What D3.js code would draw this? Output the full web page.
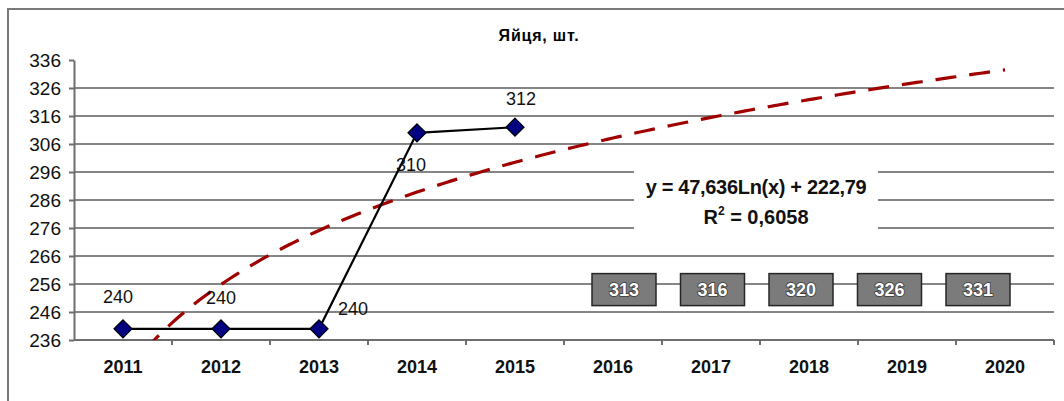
<!DOCTYPE html>
<html>
<head>
<meta charset="utf-8">
<script src="https://cdn.jsdelivr.net/npm/d3@7"></script>
<style>
  html, body { margin: 0; padding: 0; background: #fff; }
  svg { display: block; font-family: "Liberation Sans", Arial, sans-serif; }
</style>
</head>
<body>
<svg id="chart"></svg>
<script>
// Chart data
const years = ['2011', '2012', '2013', '2014', '2015', '2016', '2017', '2018', '2019', '2020'];
const eggs = [240, 240, 240, 310, 312];
const forecastYears = ['2016', '2017', '2018', '2019', '2020'];
const forecastValues = [313, 316, 320, 326, 331];
const yTicks = [236, 246, 256, 266, 276, 286, 296, 306, 316, 326, 336];
const title = 'Яйця, шт.';
const equationText = 'y = 47,636Ln(x) + 222,79';
const rSquaredText = '0,6058';

// hand-placed data label offsets (dx, dy) from each marker, as in the original
const labelOffsets = [[-5, -32], [0, -31], [34, -20], [-6, 32], [6, -29]];

const W = 1064, H = 401;
const plot = { left: 74, right: 1054, top: 60, bottom: 340 };

const svg = d3.select('#chart').attr('width', W).attr('height', H);

// outer chart frame (right and bottom edges run off the picture)
svg.append('rect')
  .attr('x', 8).attr('y', 9)
  .attr('width', 1070).attr('height', 420)
  .attr('fill', '#fff')
  .attr('stroke', '#7a7a7a')
  .attr('stroke-width', 2);

const x = d3.scaleBand().domain(years).range([plot.left, plot.right]).padding(0);
const cx = (d) => x(d) + x.bandwidth() / 2;
const y = d3.scaleLinear().domain([236, 336]).range([plot.bottom, plot.top]);

// title
svg.append('text')
  .attr('x', (8 + 1070) / 2)
  .attr('y', 35)
  .attr('dy', '0.35em')
  .attr('text-anchor', 'middle')
  .attr('font-size', 16)
  .attr('font-weight', 'bold')
  .attr('letter-spacing', 0.8)
  .text(title);

// horizontal gridlines (not at the axis and not at the top tick)
svg.append('g')
  .selectAll('line')
  .data(yTicks.filter((t) => t !== 236 && t !== 336))
  .join('line')
  .attr('x1', plot.left)
  .attr('x2', plot.right)
  .attr('y1', (d) => y(d))
  .attr('y2', (d) => y(d))
  .attr('stroke', '#858585')
  .attr('stroke-width', 2);

// y axis
const yAxis = svg.append('g')
  .attr('transform', `translate(${plot.left},0)`)
  .call(d3.axisLeft(y).tickValues(yTicks).tickSize(5).tickPadding(8).tickSizeOuter(0));
yAxis.select('.domain').attr('stroke', '#6e6e6e').attr('stroke-width', 2);
yAxis.selectAll('.tick line').attr('stroke', '#6e6e6e').attr('stroke-width', 2);
yAxis.selectAll('.tick text')
  .attr('font-size', 19)
  .attr('font-family', '"Liberation Sans", Arial, sans-serif')
  .attr('fill', '#111');

// x axis: ticks on category boundaries
const xAxis = svg.append('g').attr('transform', `translate(0,${plot.bottom})`);
xAxis.append('line')
  .attr('x1', plot.left).attr('x2', plot.right)
  .attr('stroke', '#6e6e6e').attr('stroke-width', 2);
xAxis.selectAll('line.tk')
  .data(years.slice(1).concat(['end']))
  .join('line')
  .attr('class', 'tk')
  .attr('x1', (d) => (d === 'end' ? plot.right : x(d)))
  .attr('x2', (d) => (d === 'end' ? plot.right : x(d)))
  .attr('y1', 0).attr('y2', 5)
  .attr('stroke', '#6e6e6e').attr('stroke-width', 2);
xAxis.selectAll('text')
  .data(years)
  .join('text')
  .attr('x', cx)
  .attr('y', 27)
  .attr('dy', '0.35em')
  .attr('text-anchor', 'middle')
  .attr('font-size', 18)
  .attr('font-weight', 'bold')
  .attr('fill', '#111')
  .text((d) => d);

// logarithmic trend fitted to the actual values (x = 1, 2, 3, ...)
const lnX = eggs.map((_, i) => Math.log(i + 1));
const mx = d3.mean(lnX), my = d3.mean(eggs);
const slope = d3.sum(lnX, (v, i) => (v - mx) * (eggs[i] - my)) / d3.sum(lnX, (v) => (v - mx) ** 2);
const intercept = my - slope * mx;

const xIdx = d3.scaleLinear().domain([1, years.length]).range([cx(years[0]), cx(years[years.length - 1])]);

svg.append('clipPath').attr('id', 'plotClip')
  .append('rect')
  .attr('x', plot.left).attr('y', plot.top)
  .attr('width', plot.right - plot.left).attr('height', plot.bottom - plot.top);

const trendLine = d3.line()
  .x((t) => xIdx(t))
  .y((t) => y(slope * Math.log(t) + intercept));

svg.append('path')
  .attr('clip-path', 'url(#plotClip)')
  .attr('d', trendLine(d3.range(1, years.length + 0.001, 0.05)))
  .attr('fill', 'none')
  .attr('stroke', '#a00000')
  .attr('stroke-width', 3.2)
  .attr('stroke-dasharray', '21,13');

// white label background for the trend equation
svg.append('rect')
  .attr('x', 634).attr('y', 162)
  .attr('width', 244).attr('height', 74)
  .attr('fill', '#fff');

const eq = svg.append('g')
  .attr('font-size', 20)
  .attr('font-weight', 'bold')
  .attr('fill', '#111')
  .attr('text-anchor', 'middle');
eq.append('text')
  .attr('x', 756).attr('y', 187).attr('dy', '0.35em')
  .attr('letter-spacing', -0.3)
  .text(equationText);
const r2 = eq.append('text').attr('x', 756).attr('y', 217).attr('dy', '0.35em');
r2.append('tspan').text('R');
r2.append('tspan').attr('font-size', 12).attr('dy', '-0.75em').text('2');
r2.append('tspan').attr('dy', '0.45em').text(' = ' + rSquaredText);

// forecast boxes
const boxX = d3.scalePoint()
  .domain(forecastYears)
  .range([cx(forecastYears[0]) + 11, cx(forecastYears[forecastYears.length - 1]) - 27]);
const boxes = svg.append('g')
  .selectAll('g')
  .data(forecastYears)
  .join('g')
  .attr('transform', (d) => `translate(${boxX(d)},${y(254)})`);
boxes.append('rect')
  .attr('x', -32).attr('y', -16)
  .attr('width', 64).attr('height', 32)
  .attr('fill', '#7b7b7b')
  .attr('stroke', '#262626')
  .attr('stroke-width', 1.5);
boxes.append('text')
  .attr('text-anchor', 'middle')
  .attr('dy', '0.36em')
  .attr('font-size', 18)
  .attr('font-weight', 'bold')
  .attr('fill', '#fff')
  .attr('stroke', '#3a3a3a')
  .attr('stroke-width', 1.6)
  .attr('paint-order', 'stroke')
  .text((d, i) => forecastValues[i]);

// actual series
const actual = eggs.map((v, i) => ({ year: years[i], value: v }));
svg.append('path')
  .attr('d', d3.line().x((d) => cx(d.year)).y((d) => y(d.value))(actual))
  .attr('fill', 'none')
  .attr('stroke', '#000')
  .attr('stroke-width', 2.2);

svg.append('g')
  .selectAll('path')
  .data(actual)
  .join('path')
  .attr('transform', (d) => `translate(${cx(d.year)},${y(d.value)})`)
  .attr('d', 'M0,-9L9,0L0,9L-9,0Z')
  .attr('fill', '#000080')
  .attr('stroke', '#000')
  .attr('stroke-width', 1.2);

svg.append('g')
  .selectAll('text')
  .data(actual)
  .join('text')
  .attr('x', (d, i) => cx(d.year) + labelOffsets[i][0])
  .attr('y', (d, i) => y(d.value) + labelOffsets[i][1])
  .attr('dy', '0.35em')
  .attr('text-anchor', 'middle')
  .attr('font-size', 18)
  .attr('fill', '#111')
  .text((d) => d.value);
</script>
</body>
</html>
